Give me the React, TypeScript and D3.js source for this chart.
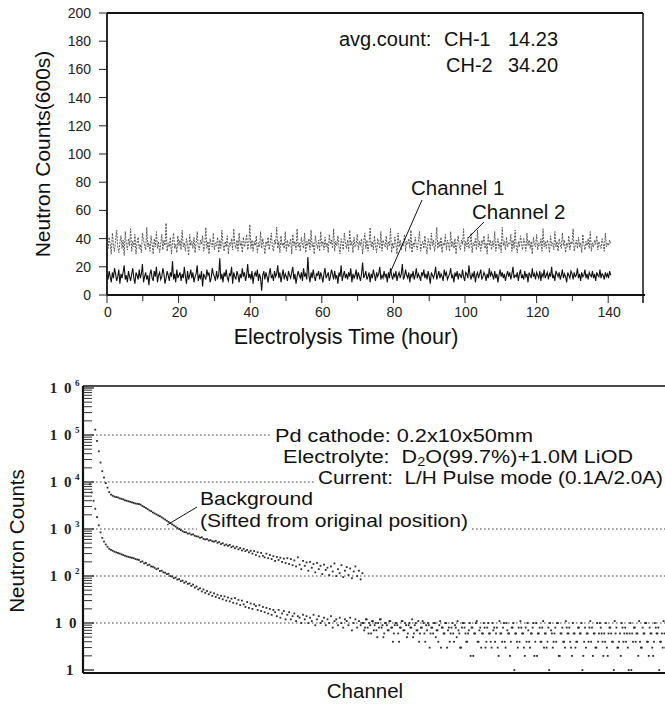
import React from "react";
import * as d3 from "d3";

// ---------- Top panel data (counts per 600 s, read every 0.3 h) ----------
const HOUR_STEP = 0.3;
const ch1Counts = [
  14,11,17,13,9,16,12,19,15,10,
  13,18,8,15,12,16,21,11,14,9,
  17,13,10,15,19,12,8,16,14,11,
  18,12,15,22,9,13,16,11,14,7,
  15,18,12,10,17,13,20,9,14,16,
  11,13,19,15,8,12,17,14,10,16,
  13,24,11,15,9,18,12,14,16,10,
  15,12,20,13,8,17,11,14,18,12,
  16,9,13,15,21,10,14,12,17,6,
  15,13,11,18,14,16,9,12,19,15,
  13,10,17,12,14,26,11,15,9,16,
  13,18,12,10,15,14,20,8,16,13,
  11,17,14,9,15,12,19,13,16,10,
  14,22,12,15,11,17,8,14,16,13,
  18,10,15,12,3,14,17,11,16,13,
  9,15,19,12,14,10,17,13,15,21,
  12,16,9,14,18,11,15,13,10,17,
  14,12,16,20,11,15,8,13,17,14,
  12,16,10,19,13,15,11,27,14,9,
  16,12,18,13,10,15,14,17,11,16,
  13,9,15,19,12,14,16,10,13,18,
  15,11,17,12,14,8,16,13,21,10,
  14,17,12,15,11,16,13,19,9,15,
  12,14,18,11,16,13,10,15,23,12,
  14,17,11,13,16,9,15,12,18,14,
  10,16,13,15,20,11,14,12,17,13,
  15,9,16,12,19,14,11,15,13,17,
  10,14,16,12,15,22,11,13,18,14,
  12,16,9,15,13,17,11,14,19,12,
  15,13,10,16,14,18,12,15,11,17,
  13,8,16,14,12,15,20,11,14,17,
  12,15,13,10,18,14,16,11,13,15,
  19,12,14,9,16,13,17,11,15,14,
  12,18,13,10,16,15,12,21,14,11,
  15,13,17,9,14,16,12,15,18,11,
  13,16,14,10,15,12,19,13,16,14,
  11,17,12,15,9,14,18,13,16,12,
  15,10,14,17,13,16,11,15,20,12,
  14,13,16,10,15,18,12,14,11,17,
  13,15,9,16,14,12,19,13,15,11,
  16,14,12,17,10,15,13,18,12,14,
  16,11,15,13,20,12,14,10,17,15,
  13,16,11,14,18,12,15,13,9,16,
  14,12,17,15,11,16,13,14,19,12,
  15,10,16,13,14,18,12,15,11,16,
  14,13,17,12,15,10,16,14,13,18,
  12,15,14,11,16,13,15,12,17,14
];
const ch2Counts = [
  38,33,41,36,29,44,35,31,39,46,
  34,30,37,42,33,39,28,45,36,32,
  40,35,47,31,38,34,43,29,37,41,
  33,36,30,44,39,35,32,48,34,37,
  31,42,36,29,40,34,45,33,38,30,
  36,43,32,39,35,51,31,37,34,41,
  29,38,44,33,36,30,42,35,39,32,
  46,34,37,31,40,36,28,43,35,38,
  33,41,30,37,45,34,32,39,36,42,
  31,35,48,33,38,29,40,36,34,44,
  32,37,35,41,30,39,33,46,36,31,
  38,34,42,29,37,35,40,32,47,36,
  33,39,31,44,35,38,30,41,34,37,
  43,32,36,50,33,39,31,38,35,42,
  30,37,34,45,33,40,36,29,38,35,
  41,32,37,44,34,31,39,36,48,33,
  38,30,42,35,37,33,45,31,39,34,
  36,40,29,43,35,38,32,47,34,37,
  31,41,36,33,44,30,38,35,40,32,
  46,34,37,29,42,36,33,39,31,45,
  35,38,32,41,34,37,30,43,36,39,
  33,47,31,38,35,42,34,29,40,36,
  32,44,37,33,39,31,46,35,38,30,
  41,34,36,43,32,38,35,40,29,37,
  44,33,39,31,36,48,34,38,32,42,
  35,30,40,37,33,45,31,39,36,34,
  42,32,38,35,47,30,37,33,41,36,
  29,44,34,39,32,37,35,43,31,38,
  36,40,33,46,30,37,34,41,35,32,
  39,45,31,36,38,33,42,34,29,40,
  37,32,44,35,39,31,36,48,33,38,
  34,41,30,37,35,43,32,39,36,31,
  45,34,38,33,40,29,37,42,35,32,
  39,36,47,31,38,34,41,33,36,44,
  30,37,35,40,32,46,34,38,31,39,
  36,42,33,37,29,43,35,39,32,38,
  34,45,31,36,40,33,37,30,48,35,
  38,32,41,34,37,36,43,31,39,33,
  46,35,30,38,34,42,36,32,40,37,
  31,44,35,39,33,38,29,41,36,34,
  43,32,37,35,40,31,47,34,38,33,
  39,36,30,42,35,37,32,45,34,38,
  31,40,36,33,44,35,39,30,37,34,
  42,32,38,36,47,31,35,39,33,41,
  34,37,30,43,36,32,38,35,40,33,
  45,31,37,34,39,36,42,32,38,35,
  33,40,36,31,44,34,37,35,39,36
];
const topYTicks = [0, 20, 40, 60, 80, 100, 120, 140, 160, 180, 200];
const topXLabels = [0, 20, 40, 60, 80, 100, 120, 140];
const topXMinor = [10, 30, 50, 70, 90, 110, 130];

// ---------- Bottom panel data (counts per channel) ----------
const BG_START = 21, BG_STEP = 3;
const backgroundCounts = [
  130000,75000,45000,26000,17000,12500,9500,7600,6100,5400,
  5100,4900,4800,4700,4500,4400,4300,4100,4000,3900,
  3800,3700,3600,3500,3450,3400,3300,3100,2950,2800,
  2650,2500,2400,2250,2150,2050,1950,1880,1780,1680,
  1590,1500,1420,1340,1260,1190,1130,1060,1000,950,
  900,860,850,800,810,760,770,720,700,690,
  650,670,620,600,610,570,580,550,540,560,
  510,530,480,500,450,470,440,460,410,430,
  390,420,370,395,350,380,340,360,320,345,
  300,340,280,320,260,310,270,250,300,240,
  280,230,265,210,255,220,245,200,235,190,
  240,180,230,170,215,160,250,175,140,210,
  165,195,130,200,150,180,120,190,140,165,
  110,175,135,150,105,160,125,185,100,140,
  115,170,95,130,155,105,145,90,125,160,
  100,130,85,115
];
const FG_START = 12, FG_STEP = 3;
const foregroundCounts = [
  9000,6000,4000,2700,1800,1200,850,650,540,470,
  420,380,360,345,330,320,310,300,290,280,
  270,262,255,250,245,240,230,225,220,200,
  205,185,190,170,175,160,158,150,140,145,
  128,130,120,118,110,112,100,98,90,93,
  84,86,78,80,72,76,68,70,62,66,
  57,60,52,55,47,52,44,48,41,45,
  38,43,36,40,34,38,32,37,30,35,
  29,33,27,34,26,31,24,30,25,22,
  28,21,26,20,25,23,19,24,18,22,
  17,21,16,20,15,19,17,14,19,13,
  16,18,12,15,17,12,14,16,11,14,
  13,10,15,12,14,10,13,11,15,9,
  12,14,10,11,13,9,12,10,14,8,
  11,12,9,13,10,8,12,11,9,13,
  7,10,12,8,11,9,10,7,12,8,
  10,6,11,9,7,10,12,8,5,10,
  9,7,11,8,6,10,9,4,8,11,
  7,9,6,10,8,5,9,7,11,6,
  8,10,4,7,9,6,8,10,5,7,
  9,3,8,6,10,7,4,8,6,9,
  5,7,3,8,10,6,4,7,2,8,
  6,10,4,7,3,6,8,4,10,6,
  3,7,4,8,2,6,4,10,3,7,
  6,4,8,1,6,3,4,8,6,2,
  4,7,3,6,10,4,2,6,4,8,
  3,6,4,1,7,3,6,4,10,2,
  6,4,3,8,6,4,2,6,3,4,
  8,6,1,4,3,6,8,4,2,6,
  3,4,10,6,2,4,3,6,8,4,
  1,6,3,4,2,8,6,4,3,6,
  1,4,8,6,2,4,3,6,10,4,
  2,6,3,4,8,6,1,4,3,6
];
const TAIL_START = 481.5, TAIL_STEP = 3;
const foregroundTailCounts = [
  10,8,12,6,9,11,7,10,5,8,
  12,9,6,10,7,11,8,4,9,10,
  6,8,11,7,10,5,9,8,12,6,
  10,7,4,8,11,6,9,10,3,8,
  6,10,7,4,11,8,6,10,3,8,
  6,10,4,8,11,6,3,10,8,4,
  6,10,8,2,6,11,4,8,6,10,
  3,8,6,4,10,8,6,3,11,6,
  8,4,10,6,2,8,10,6,4,8,
  11,6,3,8,10,4,6,8,2,10,
  6,8,4,11,6,3,8,10,6,4,
  8,10,2,6,8,4,11,6,8,3,
  10,6,4,8,6,10,2,8,6,4,
  11,8,6,3,10,6,8,4,6,10,
  2,8,6,4,11,8,3,6,10,4,
  8,6,1,10,6,8,4,6,11,3,
  8,6,10,4,8,6,2,10,6,8,
  4,6,11,3
];
const logDecades = [1, 10, 100, 1000, 10000, 100000, 1000000];
const decadeExp = ["", "", "2", "3", "4", "5", "6"];

const SANS = "'Liberation Sans', Arial, Helvetica, sans-serif";
const SERIF = "'Liberation Serif', 'Times New Roman', serif";

export default function App() {
  const xT = d3.scaleLinear().domain([0, 150]).range([107, 644]);
  const yT = d3.scaleLinear().domain([0, 200]).range([295, 13]);
  const line = d3.line<number>().x((_, i) => xT(i * HOUR_STEP)).y((d) => yT(d));

  const xB = d3.scaleLinear().domain([0, 1000]).range([83, 665]);
  const yB = d3.scaleLog().domain([1, 1000000]).range([670, 388]);
  const minorTicks: number[] = [];
  logDecades.slice(0, -1).forEach((d) => {
    for (let k = 2; k <= 9; k++) minorTicks.push(d * k);
  });

  const gridDash = "1.6,2.4";
  const pre = { whiteSpace: "pre" as const };
  const stretch = "spacingAndGlyphs";

  const dot = (key: string, ch: number, v: number) => (
    <rect key={key} x={xB(ch) - 0.85} y={yB(v) - 0.85} width={1.8} height={1.8} fill="#2a2a2a" />
  );

  return (
    <svg width={665} height={705} style={{ position: "absolute", left: 0, top: 0, background: "#fff" }}>
      <rect x={0} y={0} width={665} height={705} fill="#fff" />
      {/* ================= TOP PANEL ================= */}
      <g>
        <line x1={107} x2={643} y1={13} y2={13} stroke="#111" strokeWidth={1.8} />
        <line x1={643} x2={643} y1={13} y2={303} stroke="#111" strokeWidth={1.5} />
        <line x1={107} x2={107} y1={13} y2={295} stroke="#111" strokeWidth={1.8} />
        <line x1={107} x2={645} y1={yT(0)} y2={yT(0)} stroke="#111" strokeWidth={1.8} />
        {topYTicks.map((t) => (
          <g key={"yt" + t}>
            <line x1={99} x2={107} y1={yT(t)} y2={yT(t)} stroke="#222" strokeWidth={1} />
            <text x={91} y={yT(t) + 5} textAnchor="end" fontFamily={SANS} fontSize={14} fill="#222">
              {t}
            </text>
          </g>
        ))}
        {topXLabels.map((t) => (
          <g key={"xt" + t}>
            <line x1={xT(t)} x2={xT(t)} y1={295} y2={303} stroke="#222" strokeWidth={1} />
            <text x={xT(t) + 1} y={317} textAnchor="middle" fontFamily={SANS} fontSize={14} fill="#222">
              {t}
            </text>
          </g>
        ))}
        {topXMinor.map((t) => (
          <line key={"xm" + t} x1={xT(t)} x2={xT(t)} y1={295} y2={301} stroke="#222" strokeWidth={1} />
        ))}
        <path d={line(ch2Counts) || ""} fill="none" stroke="#555" strokeWidth={1} strokeDasharray="2,1.2" />
        <path d={line(ch1Counts) || ""} fill="none" stroke="#111" strokeWidth={1.1} />
        <text x={339} y={46} fontFamily={SANS} fontSize={20} fill="#111">avg.count:</text>
        <text x={444} y={46} fontFamily={SANS} fontSize={20} fill="#111">CH-1</text>
        <text x={508} y={46} fontFamily={SANS} fontSize={20} fill="#111">14.23</text>
        <text x={446} y={72} fontFamily={SANS} fontSize={20} fill="#111">CH-2</text>
        <text x={508} y={72} fontFamily={SANS} fontSize={20} fill="#111">34.20</text>
        <text x={411} y={195} fontFamily={SANS} fontSize={20.5} fill="#111">Channel 1</text>
        <text x={472} y={219} fontFamily={SANS} fontSize={20.5} fill="#111">Channel 2</text>
        <line x1={422} y1={200} x2={390} y2={273} stroke="#111" strokeWidth={1} />
        <line x1={484} y1={222} x2={468} y2={238} stroke="#111" strokeWidth={1} />
        <text transform={`translate(50,154) rotate(-90)`} textAnchor="middle" fontFamily={SANS} fontSize={21} fill="#111">
          Neutron Counts(600s)
        </text>
        <text x={346} y={344} textAnchor="middle" fontFamily={SANS} fontSize={21.5} fill="#111">
          Electrolysis Time (hour)
        </text>
      </g>

      {/* ================= BOTTOM PANEL ================= */}
      <g>
        <line x1={92} x2={272} y1={yB(1e5)} y2={yB(1e5)} stroke="#444" strokeWidth={1.2} strokeDasharray={gridDash} />
        <line x1={92} x2={315} y1={yB(1e4)} y2={yB(1e4)} stroke="#444" strokeWidth={1.2} strokeDasharray={gridDash} />
        <line x1={92} x2={197} y1={yB(1e3)} y2={yB(1e3)} stroke="#444" strokeWidth={1.2} strokeDasharray={gridDash} />
        <line x1={472} x2={665} y1={yB(1e3)} y2={yB(1e3)} stroke="#444" strokeWidth={1.2} strokeDasharray={gridDash} />
        <line x1={92} x2={665} y1={yB(1e2)} y2={yB(1e2)} stroke="#444" strokeWidth={1.2} strokeDasharray={gridDash} />
        <line x1={92} x2={665} y1={yB(10)} y2={yB(10)} stroke="#444" strokeWidth={1.2} strokeDasharray={gridDash} />
        <line x1={83} x2={665} y1={386} y2={386} stroke="#111" strokeWidth={1.6} />
        <line x1={83} x2={665} y1={673} y2={673} stroke="#111" strokeWidth={2.2} />
        <line x1={83} x2={83} y1={386} y2={673} stroke="#111" strokeWidth={2.2} />
        {minorTicks.map((t) => (
          <line key={"mt" + t} x1={83} x2={92} y1={yB(t)} y2={yB(t)} stroke="#333" strokeWidth={1} />
        ))}
        {logDecades.map((d, i) => (
          <g key={"ld" + d}>
            <line x1={83} x2={94} y1={yB(d)} y2={yB(d)} stroke="#222" strokeWidth={1.3} />
            <text
              x={d === 1 ? 75 : d === 10 ? 78 : 73}
              y={yB(d) + 5}
              textAnchor="end"
              fontFamily={SERIF}
              fontSize={15}
              fontWeight={600}
              letterSpacing={1.5}
              fill="#222"
              style={pre}
            >
              {d === 1 ? "1" : "1 0"}
            </text>
            {decadeExp[i] && (
              <text x={75} y={yB(d) - 2} fontFamily={SERIF} fontSize={9} fontWeight={600} fill="#222">
                {decadeExp[i]}
              </text>
            )}
          </g>
        ))}
        {backgroundCounts.map((v, i) => dot("bg" + i, BG_START + i * BG_STEP, v))}
        {foregroundCounts.map((v, i) => dot("fg" + i, FG_START + i * FG_STEP, v))}
        {foregroundTailCounts.map((v, i) => dot("ft" + i, TAIL_START + i * TAIL_STEP, v))}
        <text x={275} y={442} fontFamily={SANS} fontSize={18} fill="#111" style={pre} textLength={258} lengthAdjust={stretch}>
          Pd cathode: 0.2x10x50mm
        </text>
        <text x={283} y={463} fontFamily={SANS} fontSize={18} fill="#111" style={pre} textLength={350} lengthAdjust={stretch}>
          {"Electrolyte:  D"}
          <tspan fontSize={12} dy={3}>2</tspan>
          <tspan dy={-3}>O(99.7%)+1.0M LiOD</tspan>
        </text>
        <text x={318} y={484} fontFamily={SANS} fontSize={18} fill="#111" style={pre} textLength={345} lengthAdjust={stretch}>
          {"Current:  L/H Pulse mode (0.1A/2.0A)"}
        </text>
        <text x={200} y={505} fontFamily={SANS} fontSize={19} fill="#111" textLength={113} lengthAdjust={stretch}>
          Background
        </text>
        <text x={200} y={527} fontFamily={SANS} fontSize={19} fill="#111" textLength={268} lengthAdjust={stretch}>
          (Sifted from original position)
        </text>
        <line x1={197} y1={507} x2={167} y2={525} stroke="#111" strokeWidth={1} />
        <text transform={`translate(24,541) rotate(-90)`} textAnchor="middle" fontFamily={SANS} fontSize={20.5} fill="#111">
          Neutron Counts
        </text>
        <text x={365} y={698} textAnchor="middle" fontFamily={SANS} fontSize={20.5} fill="#111">
          Channel
        </text>
      </g>
    </svg>
  );
}
